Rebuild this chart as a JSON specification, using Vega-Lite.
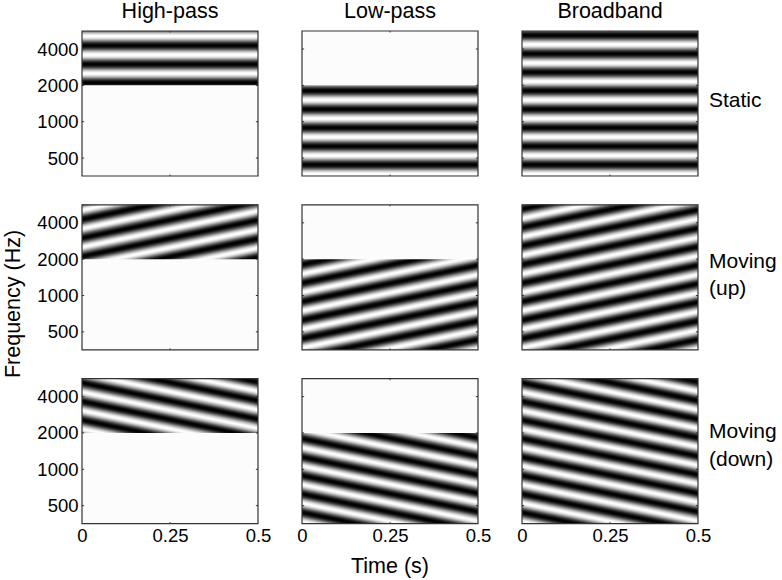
{"$schema":"https://vega.github.io/schema/vega-lite/v6.json","padding":{"left":2,"top":0,"right":0,"bottom":0},"background":"white","bounds":"flush",
"config":{"font":"Liberation Sans","view":{"stroke":null}},
"data":{"values":[
{"r":"Static","c":"High-pass","k":"s","f0":2105,"f1":2105},{"r":"Static","c":"High-pass","k":"s","f0":2997,"f1":2997},{"r":"Static","c":"High-pass","k":"s","f0":4268,"f1":4268},{"r":"Static","c":"High-pass","k":"s","f0":6078,"f1":6078},{"r":"Static","c":"High-pass","k":"m","f0":200,"f1":2000},
{"r":"Static","c":"Low-pass","k":"s","f0":308,"f1":308},{"r":"Static","c":"Low-pass","k":"s","f0":439,"f1":439},{"r":"Static","c":"Low-pass","k":"s","f0":625,"f1":625},{"r":"Static","c":"Low-pass","k":"s","f0":890,"f1":890},{"r":"Static","c":"Low-pass","k":"s","f0":1267,"f1":1267},{"r":"Static","c":"Low-pass","k":"s","f0":1803,"f1":1803},{"r":"Static","c":"Low-pass","k":"m","f0":2000,"f1":8000},
{"r":"Static","c":"Broadband","k":"s","f0":308,"f1":308},{"r":"Static","c":"Broadband","k":"s","f0":439,"f1":439},{"r":"Static","c":"Broadband","k":"s","f0":625,"f1":625},{"r":"Static","c":"Broadband","k":"s","f0":890,"f1":890},{"r":"Static","c":"Broadband","k":"s","f0":1267,"f1":1267},{"r":"Static","c":"Broadband","k":"s","f0":1803,"f1":1803},{"r":"Static","c":"Broadband","k":"s","f0":2567,"f1":2567},{"r":"Static","c":"Broadband","k":"s","f0":3655,"f1":3655},{"r":"Static","c":"Broadband","k":"s","f0":5205,"f1":5205},{"r":"Static","c":"Broadband","k":"s","f0":7412,"f1":7412},
{"r":"Moving (up)","c":"High-pass","k":"s","f0":1038,"f1":2076},{"r":"Moving (up)","c":"High-pass","k":"s","f0":1478,"f1":2956},{"r":"Moving (up)","c":"High-pass","k":"s","f0":2105,"f1":4210},{"r":"Moving (up)","c":"High-pass","k":"s","f0":2997,"f1":5994},{"r":"Moving (up)","c":"High-pass","k":"s","f0":4268,"f1":8536},{"r":"Moving (up)","c":"High-pass","k":"s","f0":6078,"f1":12156},{"r":"Moving (up)","c":"High-pass","k":"m","f0":200,"f1":2000},
{"r":"Moving (up)","c":"Low-pass","k":"s","f0":152,"f1":304},{"r":"Moving (up)","c":"Low-pass","k":"s","f0":216,"f1":432},{"r":"Moving (up)","c":"Low-pass","k":"s","f0":308,"f1":616},{"r":"Moving (up)","c":"Low-pass","k":"s","f0":439,"f1":878},{"r":"Moving (up)","c":"Low-pass","k":"s","f0":625,"f1":1250},{"r":"Moving (up)","c":"Low-pass","k":"s","f0":890,"f1":1780},{"r":"Moving (up)","c":"Low-pass","k":"s","f0":1267,"f1":2534},{"r":"Moving (up)","c":"Low-pass","k":"s","f0":1803,"f1":3606},{"r":"Moving (up)","c":"Low-pass","k":"m","f0":2000,"f1":8000},
{"r":"Moving (up)","c":"Broadband","k":"s","f0":152,"f1":304},{"r":"Moving (up)","c":"Broadband","k":"s","f0":216,"f1":432},{"r":"Moving (up)","c":"Broadband","k":"s","f0":308,"f1":616},{"r":"Moving (up)","c":"Broadband","k":"s","f0":439,"f1":878},{"r":"Moving (up)","c":"Broadband","k":"s","f0":625,"f1":1250},{"r":"Moving (up)","c":"Broadband","k":"s","f0":890,"f1":1780},{"r":"Moving (up)","c":"Broadband","k":"s","f0":1267,"f1":2534},{"r":"Moving (up)","c":"Broadband","k":"s","f0":1803,"f1":3606},{"r":"Moving (up)","c":"Broadband","k":"s","f0":2567,"f1":5134},{"r":"Moving (up)","c":"Broadband","k":"s","f0":3655,"f1":7310},{"r":"Moving (up)","c":"Broadband","k":"s","f0":5205,"f1":10410},{"r":"Moving (up)","c":"Broadband","k":"s","f0":7412,"f1":14824},
{"r":"Moving (down)","c":"High-pass","k":"s","f0":1803,"f1":901},{"r":"Moving (down)","c":"High-pass","k":"s","f0":2567,"f1":1283},{"r":"Moving (down)","c":"High-pass","k":"s","f0":3655,"f1":1828},{"r":"Moving (down)","c":"High-pass","k":"s","f0":5205,"f1":2602},{"r":"Moving (down)","c":"High-pass","k":"s","f0":7412,"f1":3706},{"r":"Moving (down)","c":"High-pass","k":"s","f0":10555,"f1":5278},{"r":"Moving (down)","c":"High-pass","k":"s","f0":15030,"f1":7515},{"r":"Moving (down)","c":"High-pass","k":"m","f0":200,"f1":2000},
{"r":"Moving (down)","c":"Low-pass","k":"s","f0":308,"f1":154},{"r":"Moving (down)","c":"Low-pass","k":"s","f0":439,"f1":220},{"r":"Moving (down)","c":"Low-pass","k":"s","f0":625,"f1":312},{"r":"Moving (down)","c":"Low-pass","k":"s","f0":890,"f1":445},{"r":"Moving (down)","c":"Low-pass","k":"s","f0":1267,"f1":634},{"r":"Moving (down)","c":"Low-pass","k":"s","f0":1803,"f1":902},{"r":"Moving (down)","c":"Low-pass","k":"s","f0":2567,"f1":1284},{"r":"Moving (down)","c":"Low-pass","k":"s","f0":3655,"f1":1828},{"r":"Moving (down)","c":"Low-pass","k":"m","f0":2000,"f1":8000},
{"r":"Moving (down)","c":"Broadband","k":"s","f0":308,"f1":154},{"r":"Moving (down)","c":"Broadband","k":"s","f0":439,"f1":220},{"r":"Moving (down)","c":"Broadband","k":"s","f0":625,"f1":312},{"r":"Moving (down)","c":"Broadband","k":"s","f0":890,"f1":445},{"r":"Moving (down)","c":"Broadband","k":"s","f0":1267,"f1":634},{"r":"Moving (down)","c":"Broadband","k":"s","f0":1803,"f1":902},{"r":"Moving (down)","c":"Broadband","k":"s","f0":2567,"f1":1284},{"r":"Moving (down)","c":"Broadband","k":"s","f0":3655,"f1":1828},{"r":"Moving (down)","c":"Broadband","k":"s","f0":5205,"f1":2602},{"r":"Moving (down)","c":"Broadband","k":"s","f0":7412,"f1":3706},{"r":"Moving (down)","c":"Broadband","k":"s","f0":10555,"f1":5278},{"r":"Moving (down)","c":"Broadband","k":"s","f0":15030,"f1":7515},
{"r":"Static","c":"Broadband","k":"l","line":"Static","f0":1493,"f1":1493},
{"r":"Moving (up)","c":"Broadband","k":"l","line":"Moving","f0":1904,"f1":1904},{"r":"Moving (up)","c":"Broadband","k":"l","line":"(up)","f0":1140,"f1":1140},
{"r":"Moving (down)","c":"Broadband","k":"l","line":"Moving","f0":2024,"f1":2024},{"r":"Moving (down)","c":"Broadband","k":"l","line":"(down)","f0":1184,"f1":1184},
{"r":"Moving (down)","c":"Low-pass","k":"x","line":"Time (s)","f0":156,"f1":156}
]},
"facet":{
"row":{"field":"r","type":"nominal","sort":["Static","Moving (up)","Moving (down)"],"header":{"title":"Frequency (Hz)","titleOrient":"left","titleFontSize":21.5,"titleFontWeight":"normal","titleColor":"black","titlePadding":2,"labels":false}},
"column":{"field":"c","type":"nominal","sort":["High-pass","Low-pass","Broadband"],"header":{"title":null,"labelOrient":"top","labelFontSize":21.5,"labelColor":"black","labelPadding":9}}
},
"spacing":{"row":28.8,"column":44},
"spec":{"width":176,"height":145,
"encoding":{
"y":{"field":"f0","type":"quantitative","scale":{"type":"log","base":2,"domain":[355,5640],"nice":false},"axis":{"title":null,"values":[500,1000,2000,4000],"format":"d","ticks":false,"domain":false,"grid":false,"labelFontSize":18.5,"labelColor":"black","labelPadding":4,"labelOverlap":false}}
},
"layer":[
{"transform":[{"filter":"datum.k=='s'"}],"encoding":{"y2":{"field":"f1"},"x":{"datum":0,"type":"quantitative","scale":{"domain":[0,0.5],"nice":false,"zero":false},"axis":{"title":null,"values":[0,0.25,0.5],"format":".2~f","ticks":false,"domain":false,"grid":false,"labelFontSize":18.5,"labelColor":"black","labelPadding":2,"labelFlush":false,"labelOverlap":false}},"x2":{"datum":0.5}},"layer":[
{"mark":{"type":"rule","clip":true,"strokeCap":"square","stroke":"#fbfbfb","strokeWidth":18}},
{"mark":{"type":"rule","clip":true,"strokeCap":"square","stroke":"#e9e9e9","strokeWidth":16}},
{"mark":{"type":"rule","clip":true,"strokeCap":"square","stroke":"#cccccc","strokeWidth":14}},
{"mark":{"type":"rule","clip":true,"strokeCap":"square","stroke":"#a5a5a5","strokeWidth":12}},
{"mark":{"type":"rule","clip":true,"strokeCap":"square","stroke":"#7a7a7a","strokeWidth":10}},
{"mark":{"type":"rule","clip":true,"strokeCap":"square","stroke":"#505050","strokeWidth":8}},
{"mark":{"type":"rule","clip":true,"strokeCap":"square","stroke":"#2b2b2b","strokeWidth":6}},
{"mark":{"type":"rule","clip":true,"strokeCap":"square","stroke":"#101010","strokeWidth":4}},
{"mark":{"type":"rule","clip":true,"strokeCap":"square","stroke":"#020202","strokeWidth":2}}
]},
{"transform":[{"filter":"datum.k=='m'"}],"encoding":{"y2":{"field":"f1"},"x":{"datum":0,"type":"quantitative"},"x2":{"datum":0.5}},"mark":{"type":"rect","clip":true,"fill":"#fcfcfc"}},
{"transform":[{"filter":"datum.k=='l'"}],"encoding":{"x":{"datum":0.5,"type":"quantitative"},"text":{"field":"line"}},"mark":{"type":"text","align":"left","baseline":"middle","dx":11,"fontSize":21,"fill":"black"}},
{"transform":[{"filter":"datum.k=='x'"}],"encoding":{"x":{"datum":0.25,"type":"quantitative"},"text":{"field":"line"}},"mark":{"type":"text","align":"center","baseline":"middle","fontSize":21.5,"fill":"black"}},
{"data":{"values":[{"t0":0,"t1":0.5,"f0":355,"f1":5640}]},"mark":{"type":"rect","fill":null,"stroke":"#333333","strokeWidth":1.2},"encoding":{"y2":{"field":"f1"},"x":{"field":"t0","type":"quantitative"},"x2":{"field":"t1"}}},
{"data":{"values":[{"t0":0,"t1":0.006,"f0":500,"f1":500},{"t0":0,"t1":0.006,"f0":1000,"f1":1000},{"t0":0,"t1":0.006,"f0":2000,"f1":2000},{"t0":0,"t1":0.006,"f0":4000,"f1":4000},{"t0":0.494,"t1":0.5,"f0":500,"f1":500},{"t0":0.494,"t1":0.5,"f0":1000,"f1":1000},{"t0":0.494,"t1":0.5,"f0":2000,"f1":2000},{"t0":0.494,"t1":0.5,"f0":4000,"f1":4000},{"t0":0.25,"t1":0.25,"f0":355,"f1":365},{"t0":0.25,"t1":0.25,"f0":5480,"f1":5640}]},"mark":{"type":"rule","stroke":"#333333","strokeWidth":1},"encoding":{"y2":{"field":"f1"},"x":{"field":"t0","type":"quantitative"},"x2":{"field":"t1"}}}
]}
}
